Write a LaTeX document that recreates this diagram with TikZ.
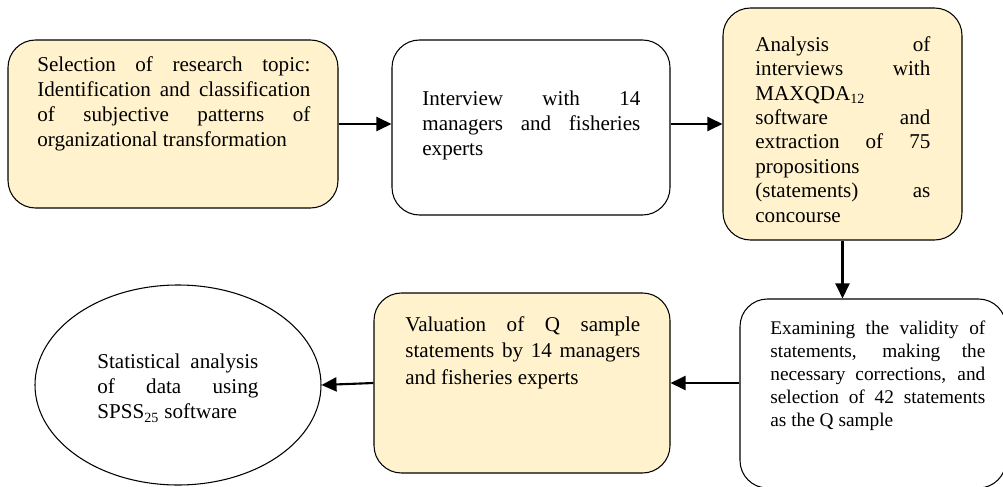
\documentclass[tikz,border=0pt]{standalone}
\usepackage{fontspec}
\setmainfont{Liberation Serif}
\usepackage{tikz}
\usetikzlibrary{arrows.meta, shapes.geometric}
\definecolor{stagefill}{HTML}{FFF2CC}
\tolerance=10000
\hbadness=10000

\begin{document}
\begin{tikzpicture}[
    stage/.style={draw, rounded corners=0.55cm, line width=0.6pt, inner sep=0pt},
    shaded/.style={stage, fill=stagefill},
    txt/.style={anchor=north west, inner sep=0pt, align=justify, font=\fontsize{12}{14.2}\selectfont},
    arr/.style={-{Triangle[length=0.3cm,width=0.28cm]}, line width=1.2pt}
]
    \useasboundingbox (0,0) rectangle (20.06,9.72);

    % Top row: research topic, interviews, analysis
    \node[shaded, minimum width=6.6cm, minimum height=3.36cm] (topic) at (3.46,7.24) {};
    \node[txt, text width=5.46cm] (topic-t) at (0.74,8.60)
        {Selection of research topic:\linebreak Identification and classification\linebreak of subjective patterns of\linebreak organizational transformation};

    \node[stage, minimum width=5.56cm, minimum height=3.5cm] (interview) at (10.62,7.17) {};
    \node[txt, text width=4.36cm] (interview-t) at (8.44,7.90)
        {Interview with 14\linebreak managers and fisheries\linebreak experts};

    \node[shaded, minimum width=4.78cm, minimum height=4.64cm] (analysis) at (16.85,7.24) {};
    \node[txt, text width=3.5cm, font=\fontsize{12}{13.9}\selectfont] (analysis-t) at (15.10,9.00)
        {Analysis of\linebreak interviews with\linebreak MAXQDA\textsubscript{12}\linebreak software and\linebreak extraction of 75\linebreak propositions\linebreak (statements) as\linebreak concourse};

    % Bottom row: validity check, valuation, statistics
    \node[stage, minimum width=5.32cm, minimum height=3.78cm] (validity) at (17.46,1.85) {};
    \node[txt, text width=4.3cm, font=\fontsize{11}{13}\selectfont] (validity-t) at (15.40,3.30)
        {Examining the validity of\linebreak statements, making the\linebreak necessary corrections, and\linebreak selection of 42 statements\linebreak as the Q sample};

    \node[shaded, minimum width=5.92cm, minimum height=3.6cm] (valuation) at (10.44,2.06) {};
    \node[txt, text width=4.7cm, font=\fontsize{12}{15.2}\selectfont] (valuation-t) at (8.10,3.40)
        {Valuation of Q sample\linebreak statements by 14 managers\linebreak and fisheries experts};

    \node[draw, ellipse, line width=0.6pt, inner sep=0pt, minimum width=5.72cm, minimum height=4cm] (stats) at (3.56,2.02) {};
    \node[txt, text width=3.22cm] (stats-t) at (1.94,2.64)
        {Statistical analysis\linebreak of data using\linebreak SPSS\textsubscript{25} software};

    % Arrows between the steps
    \draw[arr] (topic.east) -- (topic.east -| interview.west);
    \draw[arr] (interview.east |- analysis.west) -- (analysis.west);
    \draw[arr] (analysis.south) -- (analysis.south |- validity.north);
    \draw[arr] (validity.west |- valuation.east) -- (valuation.east);
    \draw[arr] (valuation.west) -- (stats.east);
\end{tikzpicture}
\end{document}
